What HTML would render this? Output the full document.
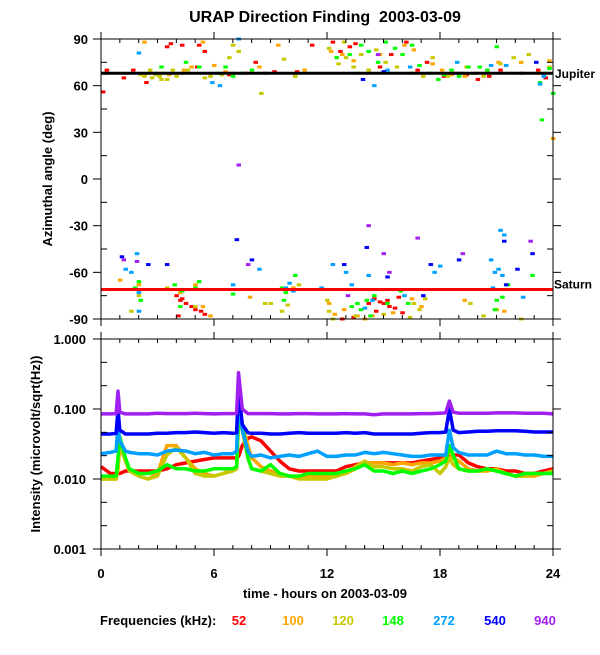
<!DOCTYPE html>
<html><head><meta charset="utf-8"><style>
body{margin:0;background:#fff;width:600px;height:650px;overflow:hidden}
svg text{font-family:"Liberation Sans",sans-serif;font-weight:bold}
</style></head><body>
<svg id="c" width="600" height="650" xmlns="http://www.w3.org/2000/svg">
<text x="325" y="22" text-anchor="middle" font-size="16">URAP Direction Finding &#160;2003-03-09</text>
<text transform="translate(52,179) rotate(-90)" text-anchor="middle" font-size="13" font-weight="normal">Azimuthal angle (deg)</text>
<text transform="translate(40,444) rotate(-90)" text-anchor="middle" font-size="13">Intensity (microvolt/sqrt(Hz))</text>
<text x="325" y="598" text-anchor="middle" font-size="13">time - hours on 2003-03-09</text>
<g id="legend"><text x="100" y="625" font-size="13">Frequencies (kHz):</text></g>
<g id="topPanel"></g>
<g id="botPanel"></g>
</svg>
<script>
const freqs=["52","100","120","148","272","540","940"];
const colors=["#ff0000","#ffa500","#c8c800","#00ff00","#00a0ff","#0000ff","#a020f0"];
const angleTicks=[90,60,30,0,-30,-60,-90];
const hourTicks=[0,6,12,18,24];
const intTicks=[1,0.1,0.01,0.001];
const intTickLabels=["1.000","0.100","0.010","0.001"];
const jupiterAngle=68, saturnAngle=-71;
const scat52=[[0.2,68],[0.3,70],[0.1,56],[1.2,65],[1.7,70],[2.4,62],[3.5,85],[3.7,87],[4.3,86],[5.2,86],[5.5,82],[5.1,72],[6.8,67],[7.7,68],[8.2,75],[8.7,68],[9.2,69],[10.4,69],[11.2,86],[12.3,88],[12.7,82],[13.2,85],[13.5,87],[14.8,72],[15.4,80],[16.2,88],[16.8,70],[17.3,75],[18.2,66],[18.8,68],[19.4,67],[20.0,64],[20.6,66],[21.2,70],[22.3,68],[23.2,70],[23.6,65],[4.0,-75],[4.2,-78],[4.3,-77],[4.5,-80],[4.8,-82],[5.0,-84],[5.3,-85],[5.5,-87],[4.1,-88],[14.5,-77],[14.8,-79],[15.0,-80],[15.3,-82],[14.6,-85],[15.6,-83],[13.4,-89],[16.0,-86],[12.8,-90],[15.2,-78],[14.2,-80],[15.8,-76]];
const scat100=[[2.3,88],[3.0,68],[3.6,67],[4.4,70],[4.8,72],[5.4,88],[6.0,73],[6.6,69],[7.0,68],[8.4,72],[9.4,86],[10.8,70],[12.2,82],[12.8,80],[13.4,76],[14.8,80],[16.1,86],[16.6,83],[17.6,74],[18.1,70],[18.6,67],[19.3,66],[19.9,68],[20.5,69],[21.1,75],[22.3,75],[23.8,76],[24,26],[1.0,-65],[2.0,-68],[4.2,-73],[5.0,-68],[5.4,-82],[5.8,-88],[7.9,-76],[12.1,-80],[12.4,-87],[13.6,-88],[14.4,-88],[15.5,-86],[16.5,-77],[17.0,-82],[19.3,-78],[21.4,-85],[10.2,-70],[12.9,-84],[14.0,-90]];
const scat120=[[2.1,67],[2.3,66],[2.5,68],[2.7,65],[2.9,67],[3.1,66],[3.3,68],[3.5,64],[3.8,70],[4.0,66],[4.3,68],[3.2,64],[2.6,70],[4.6,70],[5.5,65],[5.8,66],[6.4,67],[6.9,68],[7.3,82],[6.8,78],[7.0,86],[8.5,55],[9.7,77],[10.3,66],[12.1,84],[12.6,74],[13.0,78],[13.4,72],[13.8,80],[14.2,70],[14.6,83],[15.1,75],[15.7,72],[16.5,68],[17.1,66],[17.6,78],[18.4,66],[19.4,72],[20.3,66],[21.2,74],[21.9,78],[22.7,80],[23.3,68],[23.8,72],[12.9,88],[13.6,68],[1.6,-85],[2.0,-75],[3.5,-70],[5.0,-82],[9.0,-80],[9.6,-85],[9.9,-81],[10.5,-68],[12.0,-78],[12.1,-85],[12.3,-90],[13.5,-88],[15.0,-87],[16.4,-89],[16.9,-84],[17.2,-77],[19.6,-80],[20.3,-88],[21.0,-84],[22.3,-90],[8.7,-80],[16.6,-80]];
const scat148=[[2.9,68],[3.2,72],[4.5,75],[5.2,72],[6.6,72],[7.0,66],[6.2,68],[7.5,68],[8.0,70],[12.5,78],[13.2,80],[13.8,86],[14.2,82],[14.7,75],[15.1,88],[15.6,84],[16.0,80],[16.5,86],[16.9,73],[17.5,68],[17.9,64],[18.2,67],[18.6,70],[19.0,66],[19.5,72],[20.1,72],[20.5,70],[21.0,85],[23.3,62],[23.6,68],[23.8,71],[23.4,38],[24,55],[1.8,-70],[2.0,-66],[2.1,-78],[3.9,-68],[4.3,-72],[4.2,-82],[5.0,-70],[5.2,-66],[7.0,-74],[9.6,-70],[9.8,-73],[9.7,-78],[10.3,-62],[13.3,-82],[13.6,-80],[13.8,-84],[14.1,-78],[14.5,-75],[15.2,-80],[15.9,-72],[16.3,-80],[20.9,-84],[21.0,-78],[21.3,-76],[21.6,-68],[22.9,-62],[14.3,-88]];
const scat272=[[2.0,81],[5.9,62],[6.3,60],[7.3,90],[14.5,60],[15.2,70],[16.4,72],[18.9,75],[19.1,68],[20.7,73],[21.5,73],[23.3,61],[23.5,66],[1.3,-58],[1.6,-60],[2.0,-73],[2.0,-85],[1.9,-48],[7.0,-68],[8.4,-58],[9.8,-70],[10.0,-67],[10.2,-72],[11.7,-70],[12.3,-55],[13.0,-60],[13.3,-68],[14.0,-83],[14.4,-78],[14.2,-62],[16.1,-75],[17.7,-60],[18.0,-56],[20.7,-52],[20.9,-60],[21.1,-58],[21.3,-62],[20.8,-70],[21.4,-36],[21.2,-33],[22.4,-76]];
const scat540=[[13.9,64],[15.0,69],[23.1,75],[1.1,-50],[2.5,-55],[3.5,-55],[7.2,-39],[8.0,-52],[12.9,-55],[14.1,-44],[15.2,-63],[17.1,-75],[17.5,-55],[19.0,-52],[21.4,-40],[22.9,-48],[22.1,-58],[21.5,-68]];
const scat940=[[7.3,9],[14.2,-30],[15.0,-48],[15.3,-60],[16.8,-38],[19.2,-48],[22.8,-40],[1.2,-52],[1.9,-53],[14.7,80],[7.8,-55],[13.1,-75]];
const hours=[0,0.5,0.8,0.9,1.0,1.3,1.5,2,2.5,3,3.5,4,4.5,5,5.5,6,6.5,7,7.2,7.3,7.5,7.8,8,8.5,9,9.5,10,10.5,11,11.5,12,12.5,13,13.5,14,14.5,15,15.5,16,16.5,17,17.5,18,18.3,18.5,18.7,19,19.5,20,20.5,21,21.5,22,22.5,23,23.5,24];
const int940=[0.085,0.085,0.086,0.18,0.09,0.085,0.085,0.085,0.085,0.087,0.086,0.086,0.086,0.087,0.086,0.085,0.086,0.086,0.087,0.33,0.1,0.086,0.086,0.086,0.086,0.085,0.085,0.086,0.086,0.085,0.085,0.085,0.086,0.085,0.085,0.083,0.085,0.085,0.085,0.085,0.086,0.086,0.087,0.088,0.13,0.09,0.087,0.087,0.087,0.087,0.088,0.088,0.088,0.087,0.087,0.087,0.085];
const int540=[0.044,0.044,0.045,0.1,0.05,0.044,0.044,0.044,0.044,0.045,0.045,0.046,0.046,0.047,0.046,0.045,0.046,0.045,0.046,0.2,0.06,0.046,0.045,0.045,0.044,0.044,0.045,0.046,0.045,0.045,0.045,0.045,0.046,0.045,0.046,0.044,0.044,0.044,0.044,0.044,0.045,0.046,0.046,0.047,0.1,0.05,0.046,0.047,0.048,0.048,0.049,0.049,0.049,0.048,0.047,0.047,0.047];
const int272=[0.023,0.024,0.025,0.06,0.035,0.025,0.024,0.023,0.023,0.022,0.025,0.026,0.025,0.023,0.024,0.022,0.023,0.023,0.025,0.15,0.05,0.025,0.021,0.022,0.02,0.021,0.022,0.021,0.023,0.025,0.021,0.021,0.022,0.022,0.024,0.023,0.024,0.023,0.022,0.021,0.021,0.022,0.022,0.022,0.05,0.028,0.024,0.022,0.022,0.022,0.025,0.023,0.023,0.022,0.022,0.021,0.021];
const int148=[0.011,0.011,0.011,0.02,0.04,0.02,0.014,0.012,0.012,0.013,0.016,0.014,0.014,0.013,0.013,0.014,0.014,0.014,0.015,0.08,0.06,0.02,0.014,0.013,0.016,0.012,0.011,0.011,0.012,0.012,0.012,0.012,0.013,0.014,0.016,0.013,0.013,0.012,0.013,0.012,0.013,0.014,0.016,0.018,0.03,0.022,0.014,0.013,0.013,0.014,0.013,0.012,0.011,0.012,0.012,0.012,0.012];
const int120=[0.010,0.010,0.010,0.014,0.035,0.018,0.013,0.011,0.010,0.011,0.022,0.028,0.02,0.012,0.011,0.011,0.012,0.013,0.014,0.07,0.05,0.02,0.014,0.013,0.012,0.011,0.011,0.01,0.01,0.01,0.01,0.011,0.012,0.015,0.018,0.015,0.015,0.014,0.014,0.013,0.015,0.016,0.012,0.015,0.02,0.016,0.014,0.013,0.013,0.014,0.013,0.012,0.011,0.011,0.012,0.012,0.013];
const int100=[0.010,0.010,0.010,0.014,0.03,0.018,0.014,0.011,0.010,0.012,0.03,0.03,0.02,0.014,0.012,0.011,0.012,0.014,0.015,0.06,0.06,0.03,0.02,0.015,0.013,0.012,0.011,0.011,0.011,0.011,0.011,0.011,0.012,0.014,0.017,0.017,0.017,0.016,0.017,0.016,0.017,0.017,0.018,0.02,0.025,0.02,0.018,0.014,0.013,0.013,0.014,0.012,0.011,0.011,0.011,0.012,0.013];
const int52=[0.015,0.012,0.012,0.012,0.012,0.013,0.013,0.013,0.013,0.013,0.014,0.016,0.017,0.018,0.019,0.02,0.02,0.02,0.02,0.021,0.03,0.038,0.04,0.035,0.025,0.018,0.014,0.013,0.013,0.013,0.013,0.013,0.015,0.016,0.017,0.017,0.017,0.017,0.017,0.017,0.018,0.019,0.02,0.02,0.021,0.022,0.022,0.017,0.015,0.014,0.014,0.013,0.013,0.012,0.012,0.013,0.014];

const NS="http://www.w3.org/2000/svg";
const svgEl=document.getElementById('c');
const X0=101,X1=553,TY0=39,TY1=319,BY0=339,BY1=549;
const xs=h=>X0+(X1-X0)*h/24;
const ya=a=>TY0+(90-a)*(TY1-TY0)/180;
const yi=v=>BY0+(-Math.log10(v))*(BY1-BY0)/3;
function mk(tag,attrs,parent){const e=document.createElementNS(NS,tag);for(const k in attrs)e.setAttribute(k,attrs[k]);(parent||svgEl).appendChild(e);return e;}
const topG=document.getElementById('topPanel'),botG=document.getElementById('botPanel');

const scats=[scat52,scat100,scat120,scat148,scat272,scat540,scat940];
scats.forEach((s,i)=>{s.forEach(p=>{
  const r=mk('rect',{x:xs(p[0])-2,y:ya(p[1])-1.5,width:4.5,height:3,fill:colors[i]},topG);
  
  
});});
const jl=mk('line',{x1:X0,x2:X1,y1:ya(jupiterAngle),y2:ya(jupiterAngle),stroke:'#000','stroke-width':3},topG);


const sl=mk('line',{x1:X0,x2:X1,y1:ya(saturnAngle),y2:ya(saturnAngle),stroke:'#ff0000','stroke-width':3},topG);


const jt=mk('text',{x:X1+2,y:ya(jupiterAngle)+5,'font-size':12,'font-weight':'normal'},topG);jt.textContent='Jupiter';


const st=mk('text',{x:X1+1,y:ya(saturnAngle)-1,'font-size':12,'font-weight':'normal'},topG);st.textContent='Saturn';



const ints=[int52,int100,int120,int148,int272,int540,int940];
ints.forEach((arr,i)=>{
  const pts=arr.map((v,k)=>xs(hours[k]).toFixed(1)+','+yi(v).toFixed(1)).join(' ');
  const pl=mk('polyline',{points:pts,fill:'none',stroke:colors[i],'stroke-width':3.5,'stroke-linejoin':'round'},botG);
  
  
});

function frame(y0,y1,g){mk('rect',{x:X0,y:y0,width:X1-X0,height:y1-y0,fill:'none',stroke:'#000','stroke-width':1},g);}
frame(TY0,TY1,topG);frame(BY0,BY1,botG);
function ln(x1,y1,x2,y2,g){mk('line',{x1:x1,y1:y1,x2:x2,y2:y2,stroke:'#000','stroke-width':1},g);}
for(let h=0;h<=24;h++){const x=xs(h);const maj=h%6==0;
  [[TY0,-1,topG],[TY1,1,topG],[BY0,-1,botG],[BY1,1,botG]].forEach(([y,d,g])=>{
    if(maj)ln(x,y,x,y+d*7,g);else ln(x,y,x,y-d*4,g);});}
for(let a=-90;a<=90;a+=15){const y=ya(a);const maj=a%30==0;
  if(maj){ln(X0-8,y,X0,y,topG);ln(X1,y,X1+8,y,topG);}else{ln(X0,y,X0+6,y,topG);ln(X1-6,y,X1,y,topG);}}
angleTicks.forEach(a=>{const t=mk('text',{x:88,y:ya(a)+5,'text-anchor':'end','font-size':13},topG);t.textContent=a;
  
  });
intTicks.forEach((v,i)=>{const y=yi(v);ln(X0-8,y,X0,y,botG);ln(X1,y,X1+8,y,botG);
  const t=mk('text',{x:86,y:y+5,'text-anchor':'end','font-size':13},botG);t.textContent=intTickLabels[i];
  
  });
for(let d=0;d<3;d++){[1/3,2/3].forEach(f=>{const y=BY0+(d+f)*(BY1-BY0)/3;ln(X0,y,X0+6,y,botG);ln(X1-6,y,X1,y,botG);});}
hourTicks.forEach(h=>{const t=mk('text',{x:xs(h),y:578,'text-anchor':'middle','font-size':13},botG);t.textContent=h;
  
  });

const lx=[239,293,343,393,444,495,545];
const lg=document.getElementById('legend');
freqs.forEach((f,i)=>{const t=mk('text',{x:lx[i],y:625,'text-anchor':'middle','font-size':13,fill:colors[i],'font-weight':'normal'},lg);t.textContent=f;
  
  });
</script>
</body></html>
